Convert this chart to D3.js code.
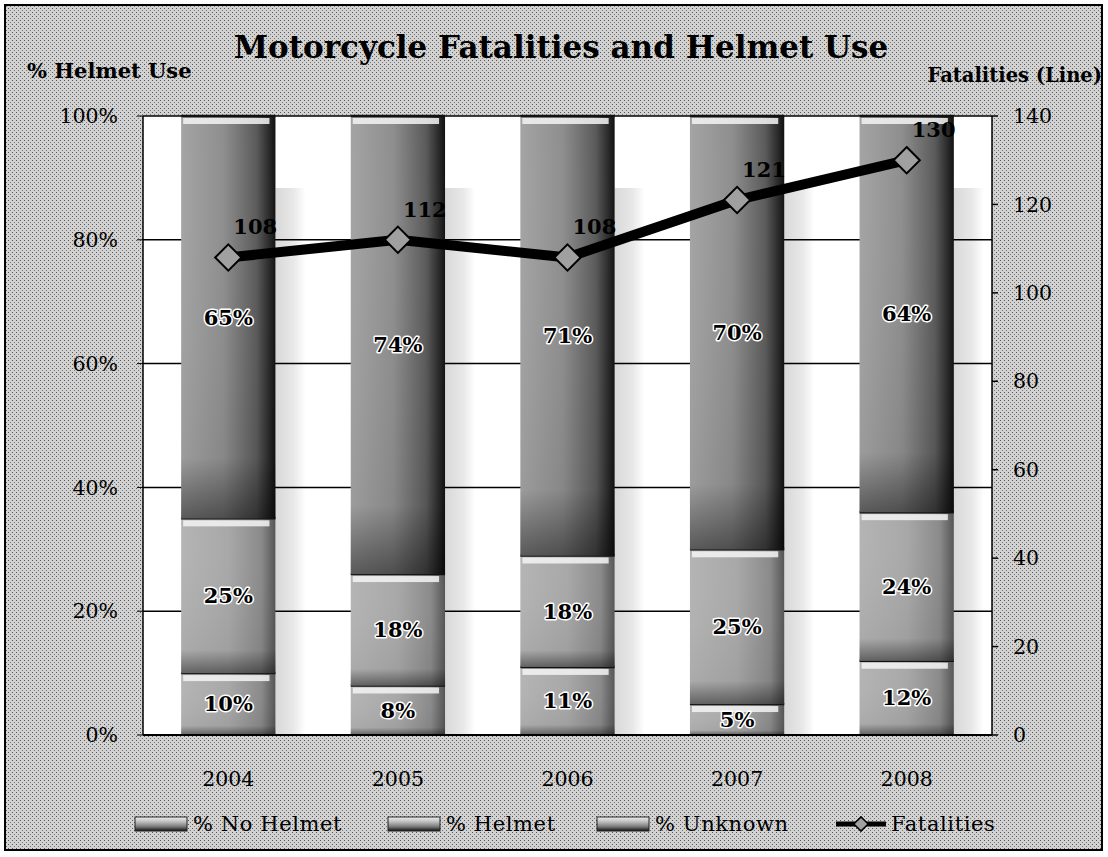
<!DOCTYPE html>
<html>
<head>
<title>Motorcycle Fatalities and Helmet Use</title>
<script src="https://d3js.org/d3.v7.min.js"></script>
<style>
  body { margin: 0; background: #fff; }
  text { font-family: "DejaVu Serif", "Liberation Serif", serif; fill: #000; }
  .lbl { font-weight: bold; paint-order: stroke; stroke: #fff; stroke-width: 3px; stroke-linejoin: round; }
</style>
</head>
<body>
<svg width="1108" height="857"></svg>
<script>
// data
var years = ['2004', '2005', '2006', '2007', '2008'];
var noHelmet = [10, 8, 11, 5, 12];
var helmet = [25, 18, 18, 25, 24];
var unknown = [65, 74, 71, 70, 64];
var fatalities = [108, 112, 108, 121, 130];
var seriesNames = ['% No Helmet', '% Helmet', '% Unknown'];
var pctTicks = [0, 20, 40, 60, 80, 100];
var fatalTicks = [0, 20, 40, 60, 80, 100, 120, 140];

var rows = years.map((y, i) => ({ year: y, a: noHelmet[i], b: helmet[i], c: unknown[i] }));

const svg = d3.select('svg');
const plotL = 143, plotR = 992, plotT = 116, plotB = 735;

var defs = svg.append('defs');
// halftone-ish background like the scan
var pat = defs.append('pattern').attr('id', 'ht').attr('width', 4).attr('height', 4)
  .attr('patternUnits', 'userSpaceOnUse');
pat.append('rect').attr('width', 4).attr('height', 4).attr('fill', '#d2d2d2');
pat.append('rect').attr('x', 0).attr('y', 0).attr('width', 1).attr('height', 1).attr('fill', '#555');
pat.append('rect').attr('x', 2).attr('y', 2).attr('width', 1).attr('height', 1).attr('fill', '#777');

function grad(id, stops, vertical) {
  var g = defs.append('linearGradient').attr('id', id)
    .attr('x1', 0).attr('y1', 0).attr('x2', vertical ? 0 : 1).attr('y2', vertical ? 1 : 0);
  stops.forEach(s => g.append('stop').attr('offset', s[0]).attr('stop-color', s[1]));
}
grad('gTop', [[0, '#a4a4a4'], [0.45, '#8e8e8e'], [0.8, '#5a5a5a'], [1, '#111']]);
grad('gLow', [[0, '#b4b4b4'], [0.5, '#a8a8a8'], [0.85, '#8a8a8a'], [1, '#555']]);
grad('gShade', [[0, 'rgba(255,255,255,0)'], [0.85, 'rgba(0,0,0,0.05)'], [1, 'rgba(0,0,0,0.45)']], true);
grad('gLeg', [[0, '#f0f0f0'], [0.35, '#bdbdbd'], [0.7, '#777'], [1, '#111']], true);
grad('gGap', [[0, '#d8d8d8'], [0.6, '#e8e8e8'], [1, '#ffffff']]);

svg.append('rect').attr('x', 5).attr('y', 5).attr('width', 1097).attr('height', 845)
  .attr('fill', 'url(#ht)').attr('stroke', '#000').attr('stroke-width', 2);
svg.append('rect').attr('x', plotL).attr('y', plotT).attr('width', plotR - plotL).attr('height', plotB - plotT)
  .attr('fill', '#fff');

var x = d3.scaleBand().domain(years).range([plotL, plotR]).paddingInner(0.444).paddingOuter(0.225);
var y = d3.scaleLinear().domain([0, 100]).range([plotB, plotT]);
var y2 = d3.scaleLinear().domain([0, 140]).range([plotB, plotT]);

// soft shadow strip right of every bar
svg.append('g').selectAll('rect').data(years).join('rect')
  .attr('x', d => x(d) + x.bandwidth()).attr('width', 30)
  .attr('y', 188).attr('height', plotB - 188)
  .attr('fill', 'url(#gGap)');

// gridlines
svg.append('g').selectAll('line').data(pctTicks).join('line')
  .attr('x1', plotL).attr('x2', plotR).attr('y1', d => y(d)).attr('y2', d => y(d))
  .attr('stroke', '#000').attr('stroke-width', 1.5);

// stacked bars
var stack = d3.stack().keys(['a', 'b', 'c'])(rows);
var fills = ['url(#gLow)', 'url(#gLow)', 'url(#gTop)'];
var layers = svg.append('g').selectAll('g').data(stack).join('g');
layers.each(function (layer, k) {
  var g = d3.select(this);
  g.selectAll('rect.seg').data(layer).join('rect').attr('class', 'seg')
    .attr('x', d => x(d.data.year)).attr('width', x.bandwidth())
    .attr('y', d => y(d[1])).attr('height', d => y(d[0]) - y(d[1]))
    .attr('fill', fills[k]);
  g.selectAll('rect.sh').data(layer).join('rect').attr('class', 'sh')
    .attr('x', d => x(d.data.year)).attr('width', x.bandwidth())
    .attr('y', d => y(d[1])).attr('height', d => y(d[0]) - y(d[1]))
    .attr('fill', 'url(#gShade)');
  // white highlight under the top edge
  g.selectAll('rect.hi').data(layer).join('rect').attr('class', 'hi')
    .attr('x', d => x(d.data.year) + 2).attr('width', x.bandwidth() - 8)
    .attr('y', d => y(d[1]) + 2).attr('height', 6)
    .attr('fill', '#f4f4f4').attr('opacity', 0.85);
  g.selectAll('line').data(layer).join('line')
    .attr('x1', d => x(d.data.year)).attr('x2', d => x(d.data.year) + x.bandwidth())
    .attr('y1', d => y(d[1])).attr('y2', d => y(d[1]))
    .attr('stroke', '#111').attr('stroke-width', 2.5);
  g.selectAll('text').data(layer).join('text').attr('class', 'lbl')
    .attr('x', d => x(d.data.year) + x.bandwidth() / 2)
    .attr('y', d => (y(d[0]) + y(d[1])) / 2)
    .attr('dy', '0.35em').attr('text-anchor', 'middle').attr('font-size', 21)
    .text(d => (d[1] - d[0]) + '%');
});

// axes
svg.append('line').attr('x1', plotL).attr('x2', plotL).attr('y1', plotT).attr('y2', plotB)
  .attr('stroke', '#000').attr('stroke-width', 1.5);
svg.append('line').attr('x1', plotR).attr('x2', plotR).attr('y1', plotT).attr('y2', plotB)
  .attr('stroke', '#000').attr('stroke-width', 1.5);
svg.append('line').attr('x1', plotL).attr('x2', plotR).attr('y1', plotB).attr('y2', plotB)
  .attr('stroke', '#000').attr('stroke-width', 2);

var la = svg.append('g').selectAll('g').data(pctTicks).join('g');
la.append('line').attr('x1', plotL - 6).attr('x2', plotL).attr('y1', d => y(d)).attr('y2', d => y(d))
  .attr('stroke', '#000');
la.append('text').attr('x', 118).attr('y', d => y(d)).attr('dy', '0.35em')
  .attr('text-anchor', 'end').attr('font-size', 20.5).text(d => d + '%');

var ra = svg.append('g').selectAll('g').data(fatalTicks).join('g');
ra.append('line').attr('x1', plotR).attr('x2', plotR + 6).attr('y1', d => y2(d)).attr('y2', d => y2(d))
  .attr('stroke', '#000').attr('stroke-width', 1.5);
ra.append('text').attr('x', 1013).attr('y', d => y2(d)).attr('dy', '0.35em')
  .attr('font-size', 20.5).text(d => d);

svg.append('g').selectAll('text').data(years).join('text')
  .attr('x', d => x(d) + x.bandwidth() / 2).attr('y', 786)
  .attr('text-anchor', 'middle').attr('font-size', 20.5).text(d => d);

// fatalities line
var cx = d => x(d) + x.bandwidth() / 2;
var line = d3.line().x((d, i) => cx(years[i])).y(d => y2(d));
svg.append('path').datum(fatalities).attr('d', line)
  .attr('fill', 'none').attr('stroke', '#000').attr('stroke-width', 10).attr('stroke-linejoin', 'round');
svg.append('g').selectAll('path').data(fatalities).join('path')
  .attr('d', d3.symbol(d3.symbolDiamond2, 440))
  .attr('transform', (d, i) => `translate(${cx(years[i])},${y2(d)})`)
  .attr('fill', '#a0a0a0').attr('stroke', '#000').attr('stroke-width', 2);
svg.append('g').selectAll('text').data(fatalities).join('text')
  .attr('x', (d, i) => cx(years[i]) + 5).attr('y', d => y2(d) - 23)
  .attr('font-size', 21).attr('font-weight', 'bold').text(d => d);

// titles
svg.append('text').attr('x', 561).attr('y', 58).attr('text-anchor', 'middle')
  .attr('font-size', 31).attr('font-weight', 'bold').text('Motorcycle Fatalities and Helmet Use');
svg.append('text').attr('x', 27).attr('y', 78).attr('font-size', 21).attr('font-weight', 'bold')
  .text('% Helmet Use');
svg.append('text').attr('x', 1102).attr('y', 82).attr('text-anchor', 'end').attr('font-size', 19.5)
  .attr('font-weight', 'bold').text('Fatalities (Line)');

// legend
var legX = [135, 388, 597];
var leg = svg.append('g').selectAll('g').data(seriesNames).join('g')
  .attr('transform', (d, i) => `translate(${legX[i]},824)`);
leg.append('rect').attr('x', 0).attr('y', -7).attr('width', 52).attr('height', 14)
  .attr('fill', 'url(#gLeg)').attr('stroke', '#222');
leg.append('text').attr('x', 58).attr('dy', '0.35em').attr('font-size', 21)
  .attr('letter-spacing', 0.6).text(d => d);
var lf = svg.append('g').attr('transform', 'translate(836,824)');
lf.append('line').attr('x1', 0).attr('x2', 50).attr('stroke', '#000').attr('stroke-width', 5);
lf.append('path').attr('d', d3.symbol(d3.symbolDiamond2, 130)).attr('transform', 'translate(25,0)')
  .attr('fill', '#a0a0a0').attr('stroke', '#000').attr('stroke-width', 1.5);
lf.append('text').attr('x', 55).attr('dy', '0.35em').attr('font-size', 21)
  .attr('letter-spacing', 0.6).text('Fatalities');
</script>
</body>
</html>
